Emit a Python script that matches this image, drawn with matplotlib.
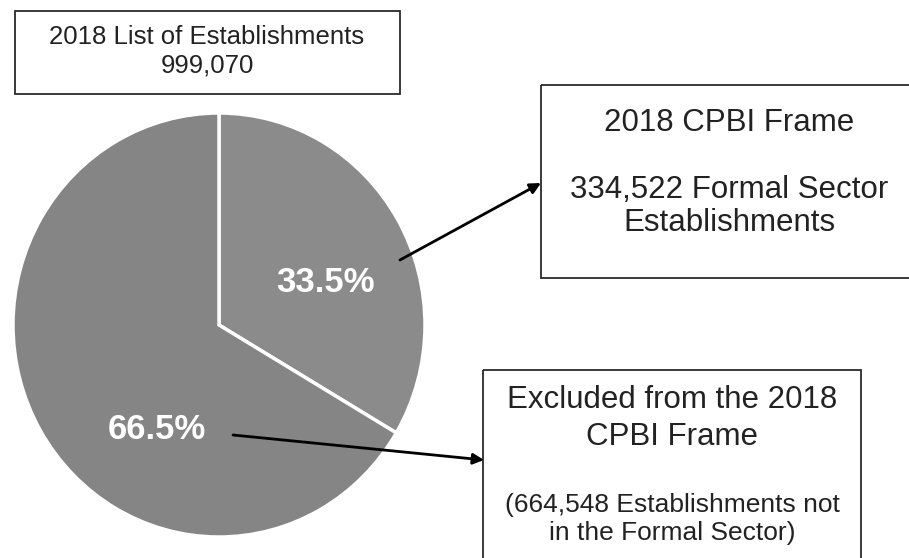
import matplotlib
matplotlib.use("Agg")
import matplotlib.pyplot as plt
from matplotlib.patches import Rectangle

# --- data ---
segments = ["CPBI Frame", "Excluded"]
shares = [33.5, 66.5]
slice_colors = ["#8b8b8b", "#858585"]
total_label = ["2018 List of Establishments", "999,070"]
frame_lines = ["2018 CPBI Frame", "334,522 Formal Sector", "Establishments"]
excluded_lines = ["Excluded from the 2018", "CPBI Frame",
                  "(664,548 Establishments not", "in the Formal Sector)"]

plt.rcParams["font.family"] = ["Liberation Sans", "DejaVu Sans"]
W, H = 909, 558
fig = plt.figure(figsize=(W / 100, H / 100), dpi=100)

# overlay axes in pixel coordinates for boxes, arrows and text
ov = fig.add_axes([0, 0, 1, 1])
ov.set_xlim(0, W)
ov.set_ylim(H, 0)
ov.axis("off")

# pie axes (slightly taller than wide, like the scan)
px, py, pw, ph = 13, 113, 412, 424
pax = fig.add_axes([px / W, 1 - (py + ph) / H, pw / W, ph / H])
wedges, texts, autotexts = pax.pie(
    shares, colors=slice_colors, startangle=90, counterclock=False,
    autopct=lambda v: f"{v:.1f}%",
    wedgeprops=dict(edgecolor="white", linewidth=2.5),
    textprops=dict(color="white", fontsize=25, fontweight="bold"))
pax.set_aspect("auto")
pax.set_xlim(-1, 1)
pax.set_ylim(-1, 1)
pax.axis("off")
# place percent labels where the original has them
autotexts[0].set_position((0.515, 0.20))
autotexts[1].set_position((-0.30, -0.495))
ov.set_zorder(2)

box_kw = dict(fill=False, edgecolor="#2a2a2a", linewidth=1.3)
txt_kw = dict(ha="center", va="center", color="#222222")

# top box
ov.add_patch(Rectangle((15, 11), 385, 83, **box_kw))
ov.text(207, 37, total_label[0], fontsize=18.5, **txt_kw)
ov.text(207, 65, total_label[1], fontsize=18.5, **txt_kw)

# CPBI frame box (runs off the right edge)
ov.add_patch(Rectangle((541, 85), 380, 193, **box_kw))
for y, s in zip([123, 190, 223], frame_lines):
    ov.text(729, y, s, fontsize=22.5, **txt_kw)

# excluded box (runs off the bottom)
ov.add_patch(Rectangle((483, 370), 378, 200, **box_kw))
for y, s, fs in zip([400, 437, 505, 533], excluded_lines, [22.5, 22.5, 19, 19]):
    ov.text(672, y, s, fontsize=fs, **txt_kw)

arrow_kw = dict(arrowstyle="-|>", color="black", lw=2, mutation_scale=16,
                shrinkA=0, shrinkB=0)
ov.annotate("", xy=(541, 183), xytext=(400, 260), arrowprops=arrow_kw)
ov.annotate("", xy=(484, 460), xytext=(233, 435), arrowprops=arrow_kw)

fig.savefig("out.png", dpi=100, facecolor="white")
